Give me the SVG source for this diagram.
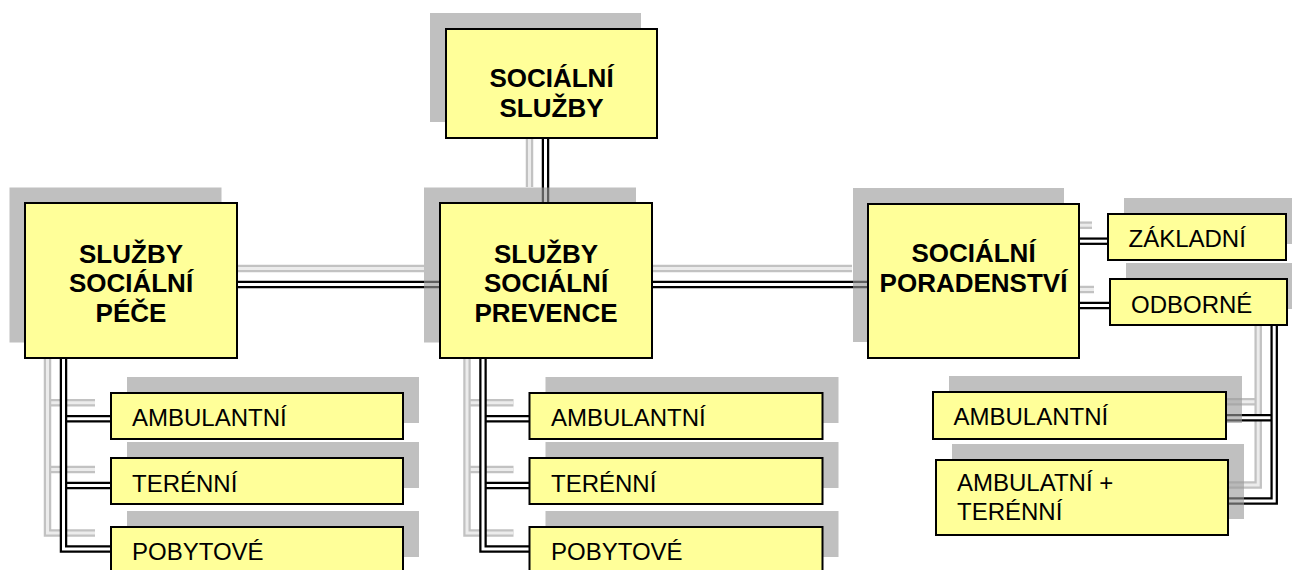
<svg xmlns="http://www.w3.org/2000/svg" xmlns:xlink="http://www.w3.org/1999/xlink" width="1292" height="570" viewBox="0 0 1292 570">
<style>
.box{fill:#FFFF99;stroke:#000;stroke-width:2}
.sh{fill:#999;fill-opacity:0.62}
.big{font-family:"Liberation Sans",Arial,sans-serif;font-weight:bold;font-size:26px;text-anchor:middle;fill:#000}
.small{font-family:"Liberation Sans",Arial,sans-serif;font-size:24px;fill:#000}
.c-out{fill:none;stroke:#000;stroke-width:7.5;stroke-linejoin:miter}
.c-in{fill:none;stroke:#fff;stroke-width:3;stroke-linejoin:miter}
.s-out{fill:none;stroke:#c2c2c2;stroke-width:7.5;stroke-linejoin:miter}
.s-in{fill:none;stroke:#ececec;stroke-width:3;stroke-linejoin:miter}
</style>
<defs>
<path id="p1" d="M545.5 138V203"/>
<path id="p2" d="M237 284.5H440"/>
<path id="p3" d="M652 284.5H868"/>
<path id="p4" d="M63.5 418.7H111"/>
<path id="p5" d="M63.5 485.5H111"/>
<path id="p6" d="M63.5 358V549H111"/>
<path id="p7" d="M483 418.7H529.5"/>
<path id="p8" d="M483 485.5H529.5"/>
<path id="p9" d="M483 358V549H529.5"/>
<path id="p10" d="M1079 241.2H1108"/>
<path id="p11" d="M1079 305.5H1110"/>
<path id="p12" d="M1274.2 417.8H1226"/>
<path id="p13" d="M1274.2 325V501H1228"/>
</defs>
<rect width="1292" height="570" fill="#fff"/>
<g id="connectors">
<g id="connector-shadows" transform="translate(-16,-16)">
<use xlink:href="#p1" class="s-out"/><use xlink:href="#p1" class="s-in"/>
<use xlink:href="#p2" class="s-out"/><use xlink:href="#p2" class="s-in"/>
<use xlink:href="#p3" class="s-out"/><use xlink:href="#p3" class="s-in"/>
<use xlink:href="#p4" class="s-out"/><use xlink:href="#p4" class="s-in"/>
<use xlink:href="#p5" class="s-out"/><use xlink:href="#p5" class="s-in"/>
<use xlink:href="#p6" class="s-out"/><use xlink:href="#p6" class="s-in"/>
<use xlink:href="#p7" class="s-out"/><use xlink:href="#p7" class="s-in"/>
<use xlink:href="#p8" class="s-out"/><use xlink:href="#p8" class="s-in"/>
<use xlink:href="#p9" class="s-out"/><use xlink:href="#p9" class="s-in"/>
<use xlink:href="#p10" class="s-out"/><use xlink:href="#p10" class="s-in"/>
<use xlink:href="#p11" class="s-out"/><use xlink:href="#p11" class="s-in"/>
<use xlink:href="#p12" class="s-out"/><use xlink:href="#p12" class="s-in"/>
<use xlink:href="#p13" class="s-out"/><use xlink:href="#p13" class="s-in"/>
</g>
<g id="connector-lines">
<use xlink:href="#p1" class="c-out"/><use xlink:href="#p1" class="c-in"/>
<use xlink:href="#p2" class="c-out"/><use xlink:href="#p2" class="c-in"/>
<use xlink:href="#p3" class="c-out"/><use xlink:href="#p3" class="c-in"/>
<use xlink:href="#p4" class="c-out"/><use xlink:href="#p4" class="c-in"/>
<use xlink:href="#p5" class="c-out"/><use xlink:href="#p5" class="c-in"/>
<use xlink:href="#p6" class="c-out"/><use xlink:href="#p6" class="c-in"/>
<use xlink:href="#p7" class="c-out"/><use xlink:href="#p7" class="c-in"/>
<use xlink:href="#p8" class="c-out"/><use xlink:href="#p8" class="c-in"/>
<use xlink:href="#p9" class="c-out"/><use xlink:href="#p9" class="c-in"/>
<use xlink:href="#p10" class="c-out"/><use xlink:href="#p10" class="c-in"/>
<use xlink:href="#p11" class="c-out"/><use xlink:href="#p11" class="c-in"/>
<use xlink:href="#p12" class="c-out"/><use xlink:href="#p12" class="c-in"/>
<use xlink:href="#p13" class="c-out"/><use xlink:href="#p13" class="c-in"/>
</g>
</g>
<g id="socialni-sluzby">
<rect class="sh" x="430" y="13" width="211" height="109"/>
<rect class="box" x="446" y="29" width="211" height="109"/>
<text class="big" x="551.5" y="87">SOCIÁLNÍ</text>
<text class="big" x="551.5" y="117">SLUŽBY</text>
</g>
<g id="sluzby-socialni-pece">
<rect class="sh" x="9.5" y="187.5" width="212" height="155"/>
<rect class="box" x="25" y="203" width="212" height="155"/>
<text class="big" x="131" y="263">SLUŽBY</text>
<text class="big" x="131" y="292">SOCIÁLNÍ</text>
<text class="big" x="131" y="322">PÉČE</text>
</g>
<g id="sluzby-socialni-prevence">
<rect class="sh" x="424" y="187.5" width="212" height="155"/>
<rect class="box" x="440" y="203" width="212" height="155"/>
<text class="big" x="546" y="263">SLUŽBY</text>
<text class="big" x="546" y="292">SOCIÁLNÍ</text>
<text class="big" x="546" y="322">PREVENCE</text>
</g>
<g id="socialni-poradenstvi">
<rect class="sh" x="853" y="188" width="211" height="154"/>
<rect class="box" x="868" y="204" width="211" height="154"/>
<text class="big" x="973.5" y="262">SOCIÁLNÍ</text>
<text class="big" x="973.5" y="292">PORADENSTVÍ</text>
</g>
<g id="pece-ambulantni">
<rect class="sh" x="127" y="377" width="292" height="46"/>
<rect class="box" x="111" y="393" width="292" height="46"/>
<text class="small" x="132" y="426">AMBULANTNÍ</text>
</g>
<g id="pece-terenni">
<rect class="sh" x="127" y="442" width="292" height="46"/>
<rect class="box" x="111" y="458" width="292" height="46"/>
<text class="small" x="132" y="491.5">TERÉNNÍ</text>
</g>
<g id="pece-pobytove">
<rect class="sh" x="127" y="511" width="292" height="46"/>
<rect class="box" x="111" y="527" width="292" height="46"/>
<text class="small" x="132" y="560">POBYTOVÉ</text>
</g>
<g id="prevence-ambulantni">
<rect class="sh" x="545.5" y="377" width="293" height="46"/>
<rect class="box" x="529.5" y="393" width="293" height="46"/>
<text class="small" x="551" y="426">AMBULANTNÍ</text>
</g>
<g id="prevence-terenni">
<rect class="sh" x="545.5" y="442" width="293" height="46"/>
<rect class="box" x="529.5" y="458" width="293" height="46"/>
<text class="small" x="551" y="491.5">TERÉNNÍ</text>
</g>
<g id="prevence-pobytove">
<rect class="sh" x="545.5" y="511" width="293" height="46"/>
<rect class="box" x="529.5" y="527" width="293" height="46"/>
<text class="small" x="551" y="560">POBYTOVÉ</text>
</g>
<g id="poradenstvi-zakladni">
<rect class="sh" x="1124" y="198" width="178" height="46"/>
<rect class="box" x="1108" y="214" width="178" height="46"/>
<text class="small" x="1128.5" y="246.5">ZÁKLADNÍ</text>
</g>
<g id="poradenstvi-odborne">
<rect class="sh" x="1126" y="263" width="177" height="46"/>
<rect class="box" x="1110" y="279" width="177" height="46"/>
<text class="small" x="1131" y="312.5">ODBORNÉ</text>
</g>
<g id="poradenstvi-ambulantni">
<rect class="sh" x="949" y="376" width="293" height="47"/>
<rect class="box" x="933" y="392" width="293" height="47"/>
<text class="small" x="953.5" y="425">AMBULANTNÍ</text>
</g>
<g id="poradenstvi-ambulatni-terenni">
<rect class="sh" x="952" y="444" width="292" height="75"/>
<rect class="box" x="936" y="460" width="292" height="75"/>
<text class="small" x="957" y="490.5">AMBULATNÍ +</text>
<text class="small" x="957" y="520">TERÉNNÍ</text>
</g>
</svg>
